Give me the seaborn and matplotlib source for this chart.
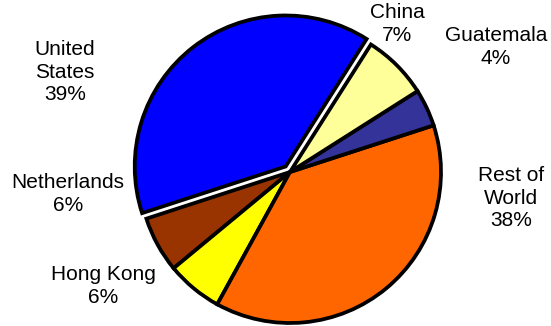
import matplotlib
matplotlib.use('Agg')
import matplotlib.pyplot as plt
import seaborn as sns

# Share of exports by destination (percent)
countries = ['United\nStates', 'Netherlands', 'Hong Kong', 'Rest of\nWorld', 'Guatemala', 'China']
shares = [39, 6, 6, 38, 4, 7]
colors = ['#0000FF', '#993300', '#FFFF00', '#FF6600', '#333399', '#FFFF99']
explode = [7, 0, 0, 0, 0, 0]  # pixels, US slice pulled out

# where each label sits (pixels, figure 551x326, origin top-left)
label_pos = [(65, 72), (68, 194), (103, 286), (511, 198), (496, 47), (397, 24)]

sns.set_style('white')
plt.rcParams['font.family'] = ['Liberation Sans', 'DejaVu Sans']

fig = plt.figure(figsize=(5.51, 3.26), dpi=100)
ax = fig.add_axes([0, 0, 1, 1])

ax.pie(shares, colors=colors, explode=explode, startangle=57.6, counterclock=True,
       center=(290, 326 - 172), radius=151, frame=True,
       wedgeprops=dict(edgecolor='black', linewidth=2.7))
ax.set_xlim(0, 551)
ax.set_ylim(0, 326)
ax.set_aspect('equal')
ax.axis('off')

for name, val, (x, y) in zip(countries, shares, label_pos):
    ax.text(x, 326 - y, f'{name}\n{val}%', ha='center', va='center',
            fontsize=15, linespacing=1.25, color='black')

fig.savefig('out.png', dpi=100)
